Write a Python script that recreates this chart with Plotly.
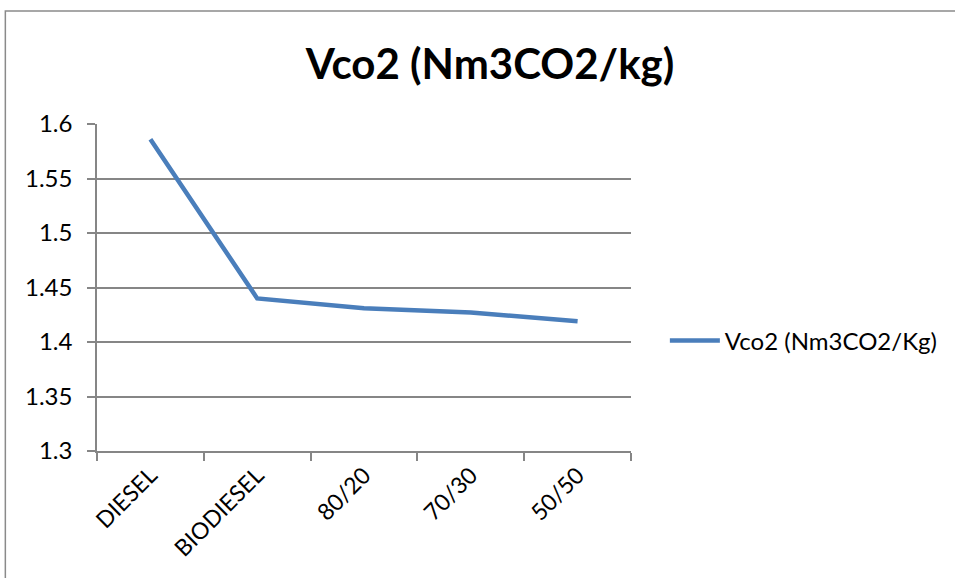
import plotly.graph_objects as go

categories = ["DIESEL", "BIODIESEL", "80/20", "70/30", "50/50"]
vco2 = [1.586, 1.44, 1.431, 1.427, 1.419]
series_name = "Vco2 (Nm3CO2/Kg)"
title_text = "Vco2 (Nm3CO2/kg)"
y_ticks = [1.3, 1.35, 1.4, 1.45, 1.5, 1.55, 1.6]
y_tick_labels = ["1.3", "1.35", "1.4", "1.45", "1.5", "1.55", "1.6"]

W, H = 955, 578
L, R, T, B = 97, 633, 124, 451

font_family = "Lato, 'Open Sans', sans-serif"

fig = go.Figure()
fig.add_trace(go.Scatter(
    x=categories, y=vco2, mode="lines", name=series_name,
    line=dict(color="#4A7EBB", width=4.5),
))

def px_x(p):
    return (p - L) / (R - L)

def px_y(p):
    return (B - p) / (B - T)

fig.update_layout(
    width=W, height=H,
    margin=dict(l=L, r=W - R, t=T, b=H - B, pad=0),
    paper_bgcolor="white", plot_bgcolor="white",
    font=dict(family=font_family, color="black", size=24),
    title=dict(text="<b>" + title_text + "</b>", x=490 / W, xanchor="center",
               y=1 - 64 / H, yanchor="middle",
               font=dict(size=42, family=font_family, color="black")),
    showlegend=True,
    legend=dict(x=px_x(667), xanchor="left", y=px_y(341), yanchor="middle",
                font=dict(size=24, family=font_family, color="black"),
                bgcolor="rgba(0,0,0,0)", itemwidth=50),
    xaxis=dict(type="category", range=[-0.5, 4.5], tickson="boundaries",
               ticks="outside", ticklen=8, tickcolor="#868686", tickwidth=1.5,
               showline=True, linecolor="#868686", linewidth=1.5,
               showgrid=False, tickangle=-45, tickfont=dict(size=23),
               zeroline=False),
    yaxis=dict(range=[1.3, 1.6], tickvals=y_ticks, ticktext=y_tick_labels,
               ticks="outside", ticklen=8, tickcolor="#868686", tickwidth=1.5,
               showline=True, linecolor="#868686", linewidth=1.5,
               showgrid=True, gridcolor="#868686", gridwidth=1.5,
               tickfont=dict(size=24), zeroline=False, ticklabelstandoff=10),
)

# outer chart border (partially visible, like the reference crop)
fig.add_shape(type="rect", xref="paper", yref="paper",
              x0=px_x(5), x1=px_x(1100), y0=px_y(11), y1=px_y(700),
              line=dict(color="#8a8a8a", width=1.5), fillcolor="rgba(0,0,0,0)",
              layer="below")

fig.write_html("out.html")
